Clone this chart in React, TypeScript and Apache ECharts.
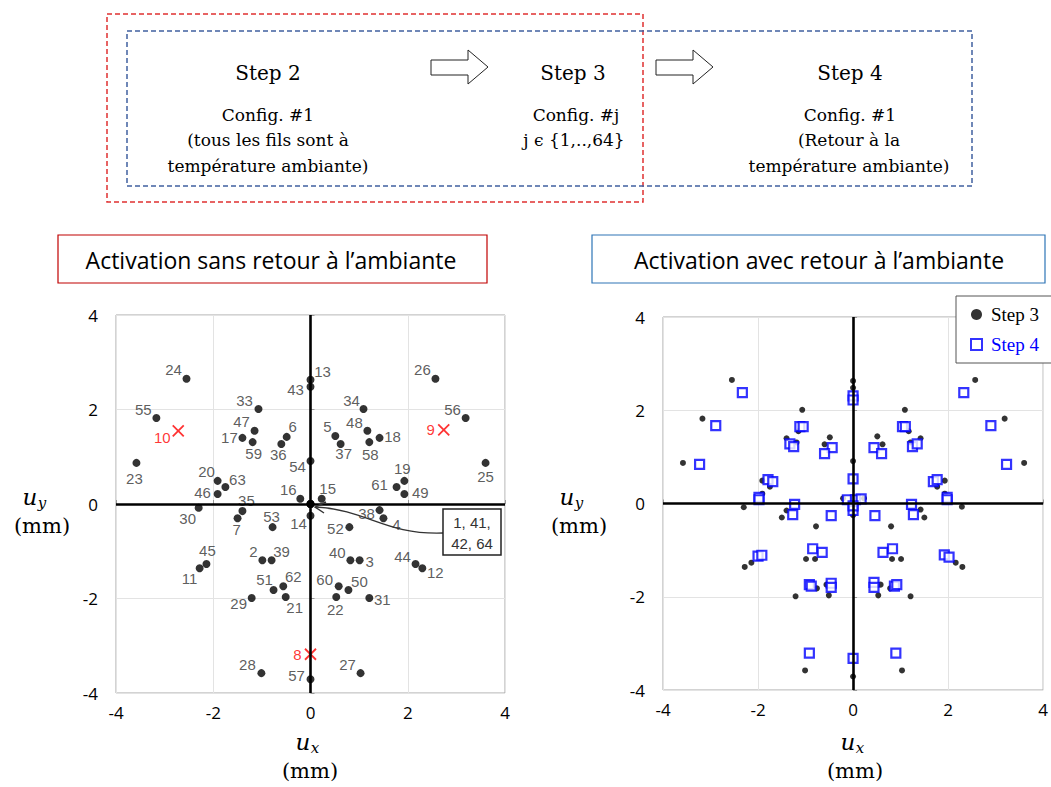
import React, { useEffect, useRef } from "react";
import * as echarts from "echarts";

// ---------- DATA ----------
// Left plot (Step 3 of each configuration j), labelled points
const leftIds = [1, 2, 3, 4, 5, 6, 7, 11, 12, 13, 14, 15, 16, 17, 18, 19, 20, 21, 22, 23, 24, 25, 26, 27, 28, 29, 30, 31, 33, 34, 35, 36, 37, 38, 39, 40, 41, 42, 43, 44, 45, 46, 47, 48, 49, 50, 51, 52, 53, 54, 55, 56, 57, 58, 59, 60, 61, 62, 63, 64];
const leftX = [0, -0.99, 1.01, 1.5, 0.51, -0.49, -1.5, -2.28, 2.3, 0, 0, 0.23, -0.21, -1.4, 1.42, 1.93, -1.91, -0.51, 0.53, -3.58, -2.55, 3.6, 2.57, 1.03, -1.01, -1.21, -2.3, 1.21, -1.07, 1.09, -1.4, -0.6, 0.62, 1.42, -0.8, 0.82, 0, 0, 0, 2.16, -2.14, -1.91, -1.15, 1.17, 1.93, 0.78, -0.76, 0.8, -0.78, 0, -3.17, 3.19, 0, 1.21, -1.19, 0.58, 1.77, -0.56, -1.75, 0];
const leftY = [0, -1.19, -1.19, -0.3, 1.44, 1.42, -0.3, -1.36, -1.36, 2.63, -0.25, 0.11, 0.11, 1.4, 1.4, 0.49, 0.49, -1.97, -1.97, 0.87, 2.65, 0.87, 2.65, -3.58, -3.58, -1.99, -0.08, -1.99, 2.01, 2.01, -0.15, 1.27, 1.27, -0.13, -1.19, -1.19, 0, 0, 2.48, -1.27, -1.27, 0.21, 1.55, 1.55, 0.21, -1.82, -1.82, -0.49, -0.49, 0.91, 1.82, 1.82, -3.71, 1.31, 1.31, -1.74, 0.36, -1.74, 0.36, 0];
// Configurations marked with a red cross
const crossIds = [8, 9, 10];
const crossX = [0, 2.74, -2.72];
const crossY = [-3.18, 1.57, 1.55];
// Points grouped in the annotation box (no individual label)
const boxedIds = [1, 41, 42, 64];
// Extra Step 3 point seen only on the right plot
const extraStep3X = [2.29];
const extraStep3Y = [-0.07];
// Right plot, Step 4 (return to ambient)
const step4X = [-2.33, 2.33, -2.89, 2.9, -3.23, 3.23, -1.12, -1.05, 1.04, 1.1, -1.33, -1.25, 1.25, 1.35, -0.44, -0.6, 0.44, 0.6, 0, 0, 0, -1.79, -1.69, 1.69, 1.77, -1.98, -1.98, 1.98, 1.98, -1.23, 1.23, -1.27, 1.27, -0.46, 0.46, -0.12, 0.05, 0.17, 0, 0, -2.0, -1.92, 1.92, 2.02, -0.85, -0.65, 0.63, 0.83, -0.92, -0.88, 0.87, 0.92, -0.46, -0.46, 0.44, 0.44, -0.92, 0.9, 0];
const step4Y = [2.38, 2.38, 1.67, 1.67, 0.84, 0.84, 1.65, 1.65, 1.65, 1.65, 1.28, 1.22, 1.22, 1.28, 1.2, 1.07, 1.2, 1.07, 2.31, 2.22, 0.53, 0.51, 0.47, 0.47, 0.51, 0.13, 0.08, 0.13, 0.08, -0.02, -0.02, -0.24, -0.24, -0.26, -0.26, 0.08, 0.08, 0.1, -0.15, -0.05, -1.13, -1.11, -1.1, -1.15, -0.97, -1.05, -1.05, -0.97, -1.74, -1.77, -1.77, -1.74, -1.71, -1.8, -1.69, -1.8, -3.21, -3.21, -3.32];
const axisTicks = [-4, -2, 0, 2, 4];

// ---------- LAYOUT (label placement relative to each point, px) ----------
const labelOffsets: Record<number, [number, number]> = {
  2: [-9, -9], 3: [10, 1], 4: [13, 6], 5: [-8, -9], 6: [6, -10], 7: [-1, 11], 8: [-13, 0], 9: [-13, 0], 10: [-16, 7],
  11: [-10, 10], 12: [13, 4], 13: [12, -8], 14: [-12, 8], 15: [6, -10], 16: [-12, -9], 17: [-13, 0], 18: [13, -1],
  19: [-2, -12], 20: [-11, -9], 21: [9, 10], 22: [-1, 12], 23: [-2, 16], 24: [-13, -9], 25: [0, 14], 26: [-13, -9],
  27: [-13, -9], 28: [-14, -9], 29: [-13, 5], 30: [-11, 11], 31: [13, 1], 33: [-14, -9], 34: [-12, -9], 35: [4, -11],
  36: [-3, 11], 37: [3, 10], 38: [-13, 3], 39: [10, -9], 40: [-13, -8], 43: [-15, 3], 44: [-13, -8], 45: [1, -14],
  46: [-15, -2], 47: [-13, -9], 48: [-13, -8], 49: [16, -2], 50: [11, -8], 51: [-9, -10], 52: [-14, 1], 53: [-1, -11],
  54: [-13, 5], 55: [-13, -9], 56: [-13, -9], 57: [-14, -4], 58: [1, 12], 59: [1, 11], 60: [-14, -7], 61: [-17, -2],
  62: [10, -10], 63: [12, -7],
};

const SERIF = "DejaVu Serif";

function txt(text: string, x: number, y: number, size: number, family: string, extra: any = {}) {
  return {
    type: "text",
    silent: true,
    style: {
      text, x, y, fontSize: size, fontFamily: family, fill: "#000",
      align: "center", verticalAlign: "middle", ...extra,
    },
  };
}

function uLabel(cx: number, cy: number, sub: string) {
  return [
    txt("u", cx, cy, 23, SERIF, { fontStyle: "italic" }),
    txt(sub, cx + 12, cy + 6, 15, SERIF, { fontStyle: "italic" }),
  ];
}

export default function App() {
  const ref = useRef<HTMLDivElement>(null);
  useEffect(() => {
    if (!ref.current) return;
    const chart = echarts.init(ref.current, undefined, { renderer: "svg" });

    const leftData = leftIds.map((id, i) => ({
      name: String(id),
      value: [leftX[i], leftY[i]],
      label: boxedIds.includes(id) ? { show: false } : { show: true, offset: labelOffsets[id] || [0, 0] },
    }));
    const crossData = crossIds.map((id, i) => ({
      name: String(id),
      value: [crossX[i], crossY[i]],
      label: { show: true, offset: labelOffsets[id] || [0, 0] },
    }));
    const step3Data = leftX.map((x, i) => [x, leftY[i]]).concat(extraStep3X.map((x, i) => [x, extraStep3Y[i]]));
    const step4Data = step4X.map((x, i) => [x, step4Y[i]]);

    const axisCommon = {
      type: "value",
      min: axisTicks[0],
      max: axisTicks[axisTicks.length - 1],
      interval: 2,
      axisLine: { show: false },
      axisTick: { show: true, inside: true, length: 4, lineStyle: { color: "#999" } },
      splitLine: { show: true, lineStyle: { color: "#e3e3e3", width: 1 } },
    };
    const xLabel = { fontFamily: "Open Sans", fontSize: 17, color: "#000", margin: 11 };
    const yLabel = { fontFamily: "Open Sans", fontSize: 17, color: "#000", margin: 18 };

    const zeroLines = (xi: number) => ({
      type: "scatter",
      xAxisIndex: xi,
      yAxisIndex: xi,
      data: [],
      z: 1,
      silent: true,
      markLine: {
        silent: true,
        symbol: "none",
        label: { show: false },
        lineStyle: { color: "#000", width: 2.6, type: "solid" },
        data: [{ xAxis: 0 }, { yAxis: 0 }],
      },
    });

    const option: any = {
      animation: false,
      backgroundColor: "#fff",
      grid: [
        { left: 116, top: 315, width: 389, height: 378, show: true, borderColor: "#a6a6a6", borderWidth: 1 },
        { left: 663, top: 317, width: 384, height: 373, show: true, borderColor: "#a6a6a6", borderWidth: 1 },
      ],
      xAxis: [
        { ...axisCommon, gridIndex: 0, axisLabel: xLabel },
        { ...axisCommon, gridIndex: 1, axisLabel: xLabel },
      ],
      yAxis: [
        { ...axisCommon, gridIndex: 0, axisLabel: yLabel },
        { ...axisCommon, gridIndex: 1, axisLabel: yLabel },
      ],
      legend: {
        orient: "vertical",
        left: 956,
        top: 296,
        padding: [9, 22, 9, 14],
        itemGap: 11,
        itemWidth: 11,
        itemHeight: 11,
        backgroundColor: "#fff",
        borderColor: "#555",
        borderWidth: 1,
        textStyle: { fontFamily: "Liberation Serif", fontSize: 19, color: "#000", padding: [0, 0, 0, 4] },
        data: [
          { name: "Step 3", icon: "circle", itemStyle: { color: "#000" }, textStyle: { color: "#000" } },
          { name: "Step 4", icon: "rect", itemStyle: { color: "#fff", borderColor: "#0000ff", borderWidth: 2 }, textStyle: { color: "#0000ff" } },
        ],
      },
      series: [
        zeroLines(0),
        zeroLines(1),
        {
          name: "Config",
          type: "scatter",
          xAxisIndex: 0,
          yAxisIndex: 0,
          symbol: "circle",
          symbolSize: 8,
          z: 3,
          itemStyle: { color: "#000" },
          label: {
            show: true,
            position: "inside",
            formatter: "{b}",
            fontFamily: "Liberation Sans",
            fontSize: 15,
            color: "#333",
          },
          data: leftData,
        },
        {
          name: "Cross",
          type: "scatter",
          xAxisIndex: 0,
          yAxisIndex: 0,
          symbol: "path://M0,0L10,10M10,0L0,10",
          symbolSize: 11,
          z: 3,
          itemStyle: { color: "#ff0000", borderColor: "#ff0000", borderWidth: 1.8 },
          label: {
            show: true,
            position: "inside",
            formatter: "{b}",
            fontFamily: "Liberation Sans",
            fontSize: 15,
            color: "#ff0000",
          },
          data: crossData,
        },
        {
          name: "Step 3",
          type: "scatter",
          xAxisIndex: 1,
          yAxisIndex: 1,
          symbol: "circle",
          symbolSize: 6,
          z: 3,
          itemStyle: { color: "#000" },
          data: step3Data,
        },
        {
          name: "Step 4",
          type: "scatter",
          xAxisIndex: 1,
          yAxisIndex: 1,
          symbol: "rect",
          symbolSize: 9,
          z: 4,
          itemStyle: { color: "#fff", borderColor: "#0000ff", borderWidth: 2.2 },
          data: step4Data,
        },
      ],
      graphic: [
        // top process diagram
        { type: "rect", silent: true, shape: { x: 107, y: 14, width: 536, height: 188 }, style: { fill: "none", stroke: "#e03030", lineWidth: 1.5, lineDash: [5, 3] } },
        { type: "rect", silent: true, shape: { x: 127, y: 31, width: 845, height: 155 }, style: { fill: "none", stroke: "#4060a0", lineWidth: 1.5, lineDash: [5, 3] } },
        txt("Step 2", 268, 73, 20, SERIF),
        txt("Config. #1", 268, 115, 17, SERIF),
        txt("(tous les fils sont à", 268, 140, 17, SERIF),
        txt("température ambiante)", 268, 166, 17, SERIF),
        txt("Step 3", 573, 73, 20, SERIF),
        txt("Config. #j", 576, 115, 17, SERIF),
        txt("j ϵ {1,..,64}", 574, 140, 17, SERIF),
        txt("Step 4", 850, 73, 20, SERIF),
        txt("Config. #1", 850, 115, 17, SERIF),
        txt("(Retour à la", 849, 140, 17, SERIF),
        txt("température ambiante)", 849, 166, 17, SERIF),
        { type: "polygon", silent: true, shape: { points: [[431, 60], [468, 60], [468, 50], [488, 67], [468, 84], [468, 75], [431, 75]] }, style: { fill: "#fff", stroke: "#222", lineWidth: 1 } },
        { type: "polygon", silent: true, shape: { points: [[656, 60], [693, 60], [693, 50], [713, 67], [693, 84], [693, 75], [656, 75]] }, style: { fill: "#fff", stroke: "#222", lineWidth: 1 } },
        // plot titles
        { type: "rect", silent: true, shape: { x: 58, y: 235, width: 429, height: 48 }, style: { fill: "#fff", stroke: "#c00000", lineWidth: 1.2 } },
        txt("Activation sans retour à l’ambiante", 271, 260, 23, "Open Sans"),
        { type: "rect", silent: true, shape: { x: 592, y: 235, width: 453, height: 48 }, style: { fill: "#fff", stroke: "#2e75b6", lineWidth: 1.2 } },
        txt("Activation avec retour à l’ambiante", 819, 260, 23, "Open Sans"),
        // axis titles
        ...uLabel(303, 742, "x"),
        txt("(mm)", 310, 771, 21, SERIF),
        ...uLabel(848, 742, "x"),
        txt("(mm)", 855, 771, 21, SERIF),
        ...uLabel(30, 497, "y"),
        txt("(mm)", 42, 526, 21, SERIF),
        ...uLabel(567, 497, "y"),
        txt("(mm)", 579, 526, 21, SERIF),
        // annotation box for 1, 41, 42, 64
        { type: "bezierCurve", silent: true, z: 10, shape: { x1: 443, y1: 533, cpx1: 385, cpy1: 535, cpx2: 368, cpy2: 510, x2: 316, y2: 507 }, style: { fill: "none", stroke: "#333", lineWidth: 1.4 } },
        { type: "polyline", silent: true, z: 10, shape: { points: [[326, 502], [315, 507], [324, 513]] }, style: { fill: "none", stroke: "#333", lineWidth: 1.4 } },
        { type: "rect", silent: true, z: 10, shape: { x: 443, y: 509, width: 58, height: 46 }, style: { fill: "#fff", stroke: "#222", lineWidth: 1.5 } },
        { ...txt("1, 41,", 472, 522, 15, "Liberation Sans", { fill: "#333" }), z: 11 },
        { ...txt("42, 64", 472, 543, 15, "Liberation Sans", { fill: "#333" }), z: 11 },
      ],
    };
    chart.setOption(option);
    return () => chart.dispose();
  }, []);
  return <div ref={ref} style={{ position: "fixed", left: 0, top: 0, width: 1051, height: 787 }} />;
}
